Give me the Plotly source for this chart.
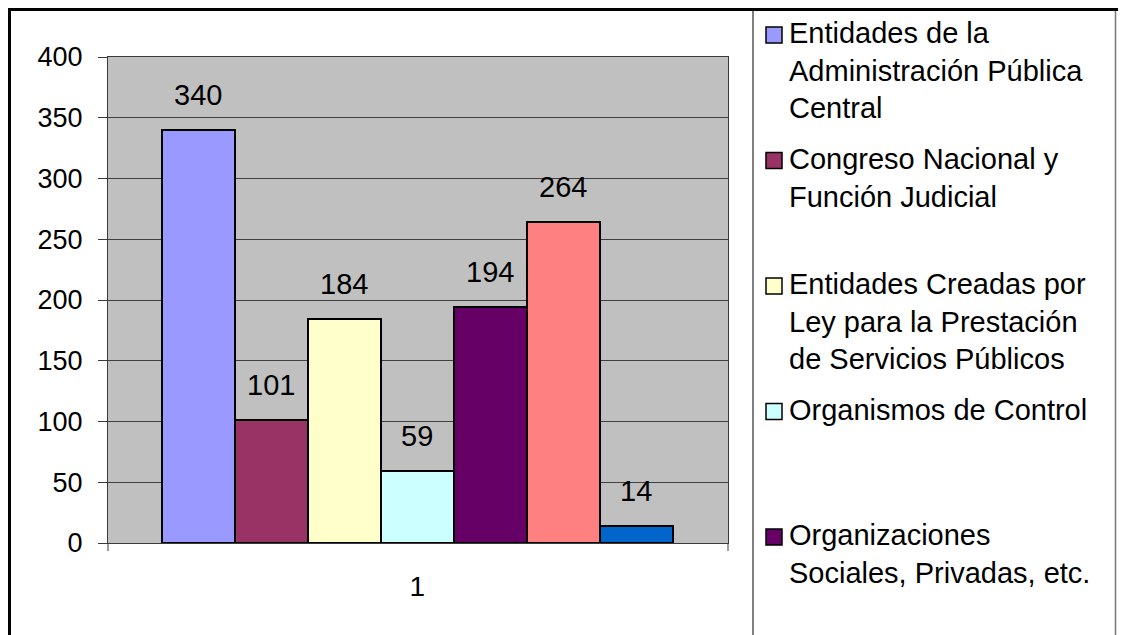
import plotly.graph_objects as go

# series (one bar each, single category "1")
series_names = [
    'Entidades de la<br>Administración Pública<br>Central',
    'Congreso Nacional y<br>Función Judicial',
    'Entidades Creadas por<br>Ley para la Prestación<br>de Servicios Públicos',
    'Organismos de Control',
    'Organizaciones<br>Sociales, Privadas, etc.',
    'Serie 6',
    'Serie 7',
]
values = [340, 101, 184, 59, 194, 264, 14]
colors = ['#9999FF', '#993366', '#FFFFCC', '#CCFFFF', '#660066', '#FF8080', '#0066CC']
category_label = ['1']
y_ticks = [0, 50, 100, 150, 200, 250, 300, 350, 400]
visible_legend = 5  # only the first five fit in the legend box

# the page body adds an 8px margin, so the figure is drawn 8px smaller
OFF = 8
W, H = 1126 - OFF, 635 - OFF
L, R, T, B = 108, 728, 57, 543  # plot area in screen pixels

def px_x(px):
    return (px - L) / (R - L)

def px_y(py):
    return (B - py) / (B - T)

FONT = 'Liberation Sans, Arial, sans-serif'
AXIS = '#3a3a3a'

fig = go.Figure()
for i, (name, v, c) in enumerate(zip(series_names, values, colors)):
    fig.add_trace(go.Bar(
        x=[i], y=[v], name=name.replace('<br>', ' '),
        width=1,
        marker=dict(color=c, line=dict(color='black', width=2)),
        showlegend=False,
    ))
    # data label above each bar
    fig.add_annotation(x=i, y=v, text=str(v), showarrow=False,
                       yanchor='bottom', yshift=17,
                       font=dict(size=29, color='black', family=FONT))

shapes = []
# small tick marks below the axis at category boundaries
for xp in [0, 1]:
    shapes.append(dict(type='line', xref='paper', yref='paper',
                       x0=xp, x1=xp, y0=0, y1=px_y(B + 8),
                       line=dict(color=AXIS, width=1)))

# legend box (custom so entries sit at Excel's even pitch)
pitch = 125.5
for i in range(visible_legend):
    cy = 35 + pitch * i
    shapes.append(dict(type='rect', xref='paper', yref='paper',
                       x0=px_x(766), x1=px_x(782), y0=px_y(cy - 8), y1=px_y(cy + 8),
                       fillcolor=colors[i], line=dict(color='black', width=1.5)))
    fig.add_annotation(xref='paper', yref='paper', x=px_x(787), y=px_y(cy - 20),
                       xanchor='left', yanchor='top', align='left',
                       text=series_names[i], showarrow=False,
                       font=dict(size=29, color='black', family=FONT))

# legend frame lines
shapes.append(dict(type='line', xref='paper', yref='paper',
                   x0=px_x(753), x1=px_x(753), y0=px_y(9), y1=px_y(H + 20),
                   line=dict(color='#555555', width=1.5)))
shapes.append(dict(type='line', xref='paper', yref='paper',
                   x0=px_x(1115.5), x1=px_x(1115.5), y0=px_y(9), y1=px_y(H + 20),
                   line=dict(color='#777777', width=1.5)))
# outer chart border (bottom edge is cut off)
shapes.append(dict(type='path', xref='paper', yref='paper',
                   path='M {} {} L {} {} L {} {} L {} {}'.format(
                       px_x(9.5), px_y(H + 20), px_x(9.5), px_y(9.5),
                       px_x(1122.5), px_y(9.5), px_x(1122.5), px_y(H + 20)),
                   line=dict(color='black', width=3)))

fig.update_layout(
    width=W, height=H,
    margin=dict(l=L - OFF, r=1126 - R, t=T - OFF, b=635 - B, pad=0),
    paper_bgcolor='white',
    plot_bgcolor='#C0C0C0',
    bargap=0,
    font=dict(family=FONT, size=27, color='black'),
    shapes=shapes,
    xaxis=dict(
        range=[-1.24, 7.26],
        tickvals=[3], ticktext=category_label,
        ticks='', showgrid=False, zeroline=False,
        showline=True, linecolor=AXIS, linewidth=1, mirror=True,
        ticklabelstandoff=18,
        tickfont=dict(size=28),
        fixedrange=True,
    ),
    yaxis=dict(
        range=[0, 400],
        tickvals=y_ticks,
        ticks='outside', ticklen=9, tickcolor=AXIS, tickwidth=1,
        showgrid=True, gridcolor='#404040', gridwidth=1,
        zeroline=False,
        showline=True, linecolor=AXIS, linewidth=1, mirror=True,
        ticklabelstandoff=10,
        tickfont=dict(size=27),
        fixedrange=True,
    ),
)

fig.write_html('out.html')
